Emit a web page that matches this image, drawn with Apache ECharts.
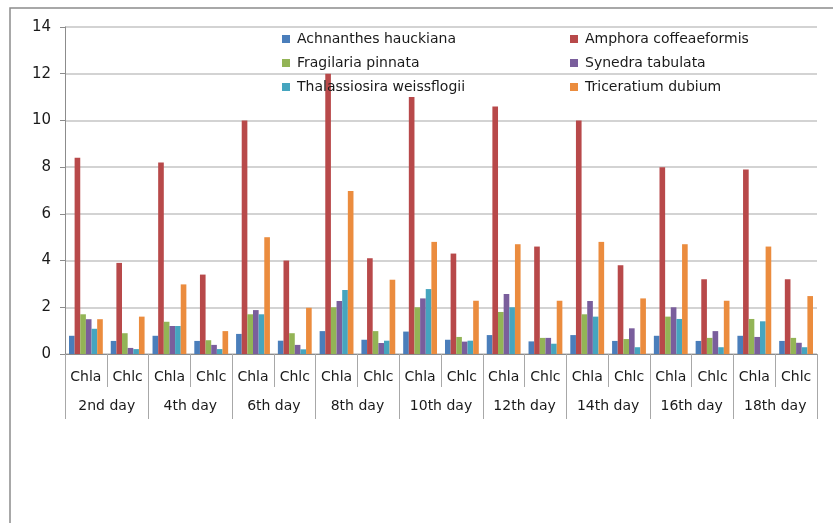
<!DOCTYPE html>
<html>
<head>
<meta charset="utf-8">
<script src="https://cdn.jsdelivr.net/npm/echarts@6/dist/echarts.min.js"></script>
<style>
  html, body { margin: 0; padding: 0; background: #fff; }
  #chart { width: 833px; height: 523px; }
</style>
</head>
<body>
<div id="chart"></div>
<script>
// Pigment fractions (Chla / Chlc) per sampling day
const days = ['2nd day', '4th day', '6th day', '8th day', '10th day', '12th day', '14th day', '16th day', '18th day'];
const pigments = ['Chla', 'Chlc'];
const yTicks = { min: 0, max: 14, interval: 2 };

const speciesNames = [
  'Achnanthes hauckiana',
  'Amphora coffeaeformis',
  'Fragilaria pinnata',
  'Synedra tabulata',
  'Thalassiosira weissflogii',
  'Triceratium dubium'
];

const achnanthes    = [0.78, 0.56, 0.78, 0.56, 0.86, 0.57, 0.98, 0.61, 0.96, 0.61, 0.81, 0.54, 0.81, 0.56, 0.78, 0.56, 0.78, 0.56];
const amphora       = [8.4, 3.9, 8.2, 3.4, 10.0, 4.0, 12.0, 4.1, 11.0, 4.3, 10.6, 4.6, 10.0, 3.8, 8.0, 3.2, 7.9, 3.2];
const fragilaria    = [1.7, 0.89, 1.38, 0.59, 1.7, 0.89, 2.0, 0.98, 2.0, 0.73, 1.8, 0.69, 1.7, 0.64, 1.6, 0.69, 1.5, 0.69];
const synedra       = [1.49, 0.26, 1.2, 0.39, 1.88, 0.39, 2.27, 0.47, 2.38, 0.53, 2.57, 0.69, 2.27, 1.1, 2.0, 0.98, 0.73, 0.48];
const thalassiosira = [1.08, 0.21, 1.2, 0.21, 1.7, 0.2, 2.74, 0.57, 2.78, 0.57, 2.0, 0.44, 1.6, 0.29, 1.5, 0.29, 1.4, 0.29];
const triceratium   = [1.49, 1.6, 2.98, 0.98, 5.0, 1.98, 6.98, 3.18, 4.8, 2.28, 4.7, 2.28, 4.8, 2.38, 4.7, 2.28, 4.6, 2.48];

const seriesValues = [achnanthes, amphora, fragilaria, synedra, thalassiosira, triceratium];
const colors = ['#4A7EBB', '#B8494A', '#93B456', '#7A5E9C', '#45A5BF', '#EB8C3E'];

// one category per (day, pigment) pair
const categories = [];
days.forEach(() => pigments.forEach(p => categories.push(p)));

const FONT = 'DejaVu Sans';
const TEXT = '#1a1a1a';

// six single-item legends laid out in a 2 x 3 block
const legendPos = [
  { left: 282, top: 32 }, { left: 570, top: 32 },
  { left: 282, top: 56 }, { left: 570, top: 56 },
  { left: 282, top: 80 }, { left: 570, top: 80 }
];
const legends = speciesNames.map((name, i) => ({
  data: [name],
  left: legendPos[i].left,
  top: legendPos[i].top,
  padding: 0,
  itemWidth: 8,
  itemHeight: 8,
  icon: 'rect',
  selectedMode: false,
  textStyle: { fontFamily: FONT, fontSize: 14, color: TEXT, padding: [0, 0, 0, 2] }
}));

const chart = echarts.init(document.getElementById('chart'), null, { renderer: 'canvas' });

chart.setOption({
  animation: false,
  backgroundColor: '#fff',
  color: colors,
  legend: legends,
  grid: { left: 65, right: 16, top: 27, bottom: 169, containLabel: false },
  xAxis: [
    {
      type: 'category',
      data: categories,
      position: 'bottom',
      boundaryGap: true,
      axisLine: { show: true, lineStyle: { color: '#8c8c8c', width: 1 } },
      axisTick: { show: true, interval: 0, length: 33, lineStyle: { color: '#a8a8a8' } },
      axisLabel: { interval: 0, margin: 16, fontFamily: FONT, fontSize: 14, color: TEXT },
      splitLine: { show: false }
    },
    {
      type: 'category',
      data: days,
      position: 'bottom',
      boundaryGap: true,
      axisLine: { show: true, lineStyle: { color: '#8c8c8c', width: 1 } },
      axisTick: { show: true, interval: 0, length: 65, lineStyle: { color: '#a8a8a8' } },
      axisLabel: { interval: 0, margin: 45, fontFamily: FONT, fontSize: 14, color: TEXT },
      splitLine: { show: false }
    }
  ],
  yAxis: {
    type: 'value',
    min: yTicks.min,
    max: yTicks.max,
    interval: yTicks.interval,
    axisLine: { show: true, lineStyle: { color: '#8c8c8c', width: 1 } },
    axisTick: { show: true, length: 5, lineStyle: { color: '#8c8c8c' } },
    axisLabel: { margin: 14, fontFamily: FONT, fontSize: 15, color: TEXT },
    splitLine: { show: true, lineStyle: { color: '#c4c4c4', width: 1.5 } }
  },
  graphic: [
    {
      type: 'rect',
      shape: { x: 10, y: 8, width: 900, height: 600 },
      style: { fill: 'none', stroke: '#8c8c8c', lineWidth: 1.5 },
      silent: true,
      z: -1
    }
  ],
  series: speciesNames.map((name, i) => ({
    name,
    type: 'bar',
    xAxisIndex: 0,
    data: seriesValues[i],
    barGap: '0%',
    barCategoryGap: '19%',
    itemStyle: { color: colors[i] }
  }))
});
</script>
</body>
</html>
